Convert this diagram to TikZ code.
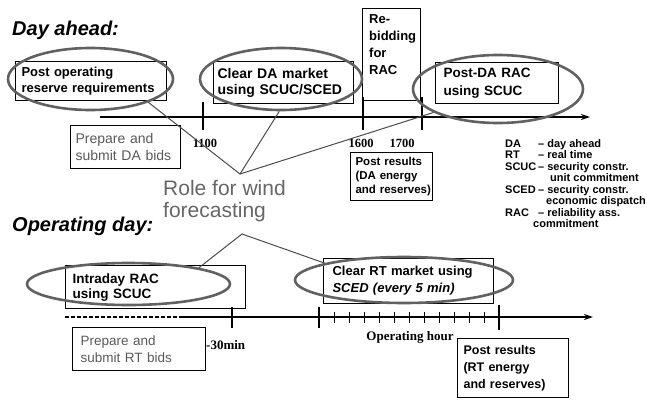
\documentclass[tikz,border=0pt]{standalone}
\usepackage{fontspec}
\setmainfont{Liberation Sans}
\newfontfamily\serifb{Liberation Serif}
\usetikzlibrary{arrows.meta,shapes.geometric}
\newcommand{\fs}[2]{\fontsize{#1}{#2}\selectfont}
\hyphenpenalty=10000
\exhyphenpenalty=10000
\begin{document}
\begin{tikzpicture}[x=1pt,y=-1pt,
  box/.style={draw, line width=1.1pt, anchor=north west, inner xsep=6pt, inner ysep=0pt, align=left},
  oval/.style={ellipse, draw=black!62, line width=2.6pt, inner sep=0pt},
  axis/.style={line width=1.3pt, -{Stealth[length=9pt,width=6pt]}},
  tick/.style={line width=1.3pt},
  link/.style={draw=black!70, line width=1pt},
  ttl/.style={anchor=base west, inner sep=0pt, font=\bfseries\itshape\fs{20}{24}},
  num/.style={inner sep=0pt, font=\serifb\bfseries\fs{12.5}{14}},
]
\useasboundingbox (0,0) rectangle (647,399);

% titles
\node[ttl] (dayahead) at (12,35) {Day ahead:};
\node[ttl] (opday) at (12,231) {Operating day:};

% top timeline
\coordinate (ta0) at (100,117);
\coordinate (ta1) at (590,117);
\draw[axis] (ta0) -- (ta1);
\draw[tick] (203,102) -- (203,130);
\draw[tick] (363,97) -- (363,130);
\draw[tick] (422,97) -- (422,130);
\node[num] (l1100) at (205,143) {1100};
\node[num] (l1600) at (361,143) {1600};
\node[num] (l1700) at (402,143) {1700};

% day-ahead boxes
\node[box, minimum width=151, minimum height=39, text width=139, font=\bfseries\fs{13}{16}] (b1) at (15,61) {Post operating\\reserve~requirements};
\node[box, inner xsep=4pt, minimum width=140, minimum height=42, text width=132, font=\bfseries\fs{14}{16}] (b2) at (213,61) {Clear~DA~market\\using~SCUC/SCED};
\node[box, minimum width=58, minimum height=92] (b3) at (362,8) {};
\node[anchor=north west, inner sep=0pt, align=left, font=\bfseries\fs{13}{17}] (t3) at (369,14) {Re-\\bidding\\for\\RAC};
\node[box, inner xsep=8pt, minimum width=123, minimum height=41, text width=107, font=\bfseries\fs{13.5}{18}] (b4) at (435,62) {Post-DA~RAC\\using~SCUC};
\node[box, inner xsep=5pt, minimum width=110, minimum height=43, text width=100, text=black!65, font=\fs{14}{17}] (b5) at (70,125) {Prepare~and\\submit~DA~bids};
\node[box, inner xsep=5pt, minimum width=82, minimum height=48, text width=72, font=\bfseries\fs{11.5}{14}] (b6) at (350,152) {Post~results\\(DA~energy\\and~reserves)};

% ellipses (day ahead)
\node[oval, minimum width=165, minimum height=62] (e1) at (90.5,79) {};
\node[oval, minimum width=162, minimum height=62] (e2) at (281,79) {};
\node[oval, minimum width=170, minimum height=68] (e3) at (498,89) {};

% role for wind forecasting
\node[anchor=north west, inner sep=0pt, align=left, text=black!60, font=\fs{21}{22}] (role) at (163,180) {Role for wind\\forecasting};
\coordinate (rt) at (240,174);
\coordinate (rb) at (242,234);
\draw[link] (e1.-22) -- (rt) -- (e2.-93);
\draw[link] (rt) -- (e3.200);

% legend
\node[anchor=base west, inner sep=0pt, font=\bfseries\fs{11}{11.5}] (legend) at (505,147) {\begin{tabular}[t]{@{}l@{\,}l@{}}
DA & -- day ahead\\
RT & -- real time\\
SCUC & -- security constr.\\
 & \hspace{12pt}unit commitment\\
SCED & -- security constr.\\
 & \hspace{8pt}economic dispatch\\
RAC & -- reliability ass.\\
\multicolumn{2}{@{}l@{}}{\hspace{28pt}commitment}
\end{tabular}};

% operating day boxes
\node[box, inner xsep=7pt, minimum width=180, minimum height=43, text width=166, font=\bfseries\fs{13.5}{15}] (b7) at (65,265) {Intraday~RAC\\using~SCUC};
\node[box, inner xsep=8pt, minimum width=133, minimum height=43, text width=117, text=black!65, font=\fs{13.5}{17}] (b8) at (72,327) {Prepare~and\\submit~RT~bids};
\node[box, inner xsep=9pt, minimum width=170, minimum height=45, text width=152, font=\bfseries\fs{13}{17}] (b9) at (323,258) {Clear~RT~market~using\\\textit{SCED~(every~5~min)}};
\node[box, inner xsep=6pt, minimum width=111, minimum height=59, text width=99, font=\bfseries\fs{12.5}{17}] (b10) at (457,338) {Post~results\\(RT~energy\\and~reserves)};

% ellipses (operating day)
\node[oval, minimum width=203, minimum height=42] (e4) at (128.5,284) {};
\node[oval, minimum width=218, minimum height=46] (e5) at (404,280) {};
\draw[link] (e4.13) -- (rb) -- (e5.168);

% bottom timeline
\coordinate (tb0) at (65,317);
\coordinate (tbd) at (180,317);
\coordinate (tb1) at (593,317);
\draw[line width=1.3pt, dash pattern=on 4pt off 2pt] (tb0) -- (tbd);
\draw[axis] (tbd) -- (tb1);
\draw[tick] (232,307) -- (232,328);
\draw[tick] (319,307) -- (319,328);
\foreach \i in {1,...,11} \draw[line width=1pt] ({319+15*\i},312) -- ({319+15*\i},323);
\draw[tick] (499,305) -- (499,330);
\node[num, anchor=west, font=\serifb\bfseries\fs{13}{15}] (m30) at (206,345) {-30min};
\node[num, font=\serifb\bfseries\fs{13}{15}] (ophour) at (410,337) {Operating hour};
\end{tikzpicture}
\end{document}
